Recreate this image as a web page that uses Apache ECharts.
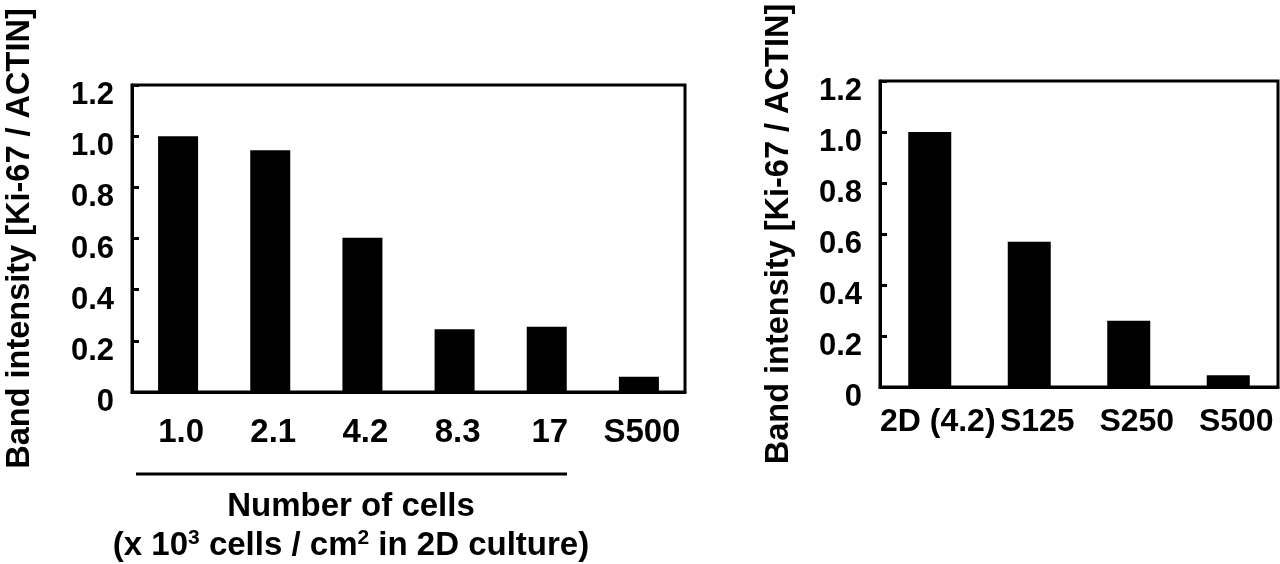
<!DOCTYPE html>
<html>
<head>
<meta charset="utf-8">
<title>Ki-67 band intensity</title>
<script src="https://cdn.jsdelivr.net/npm/echarts@6/dist/echarts.min.js"></script>
<style>
  html, body { margin: 0; padding: 0; background: #fff; }
  #chart { width: 1280px; height: 564px; }
</style>
</head>
<body>
<div id="chart"></div>
<script>
// left panel: 2D culture densities + spheroid
const cellCategories = ['1.0', '2.1', '4.2', '8.3', '17', 'S500'];
const cellValues = [1.0, 0.945, 0.603, 0.245, 0.255, 0.06];

// right panel: 2D vs spheroids
const cultureCategories = ['2D (4.2)', 'S125', 'S250', 'S500'];
const cultureValues = [1.0, 0.57, 0.26, 0.046];

const yTicks = [0, 0.2, 0.4, 0.6, 0.8, 1.0, 1.2];
const yTitle = 'Band intensity [Ki-67 / ACTIN]';

const FONT = '"Liberation Sans", Arial, sans-serif';

const chart = echarts.init(document.getElementById('chart'), null, { renderer: 'canvas' });

function fmtTick(v) {
    // "0" stays bare, everything else one decimal
    // wrapped in rich style so the number sits a bit under its tick
    return '{v|' + (v === 0 ? '0' : v.toFixed(1)) + '}';
}

function xAxisFor(gridIndex, cats, fontSize, margin, shift) {
    return {
        type: 'category',
        gridIndex: gridIndex,
        data: cats,
        axisLine: { lineStyle: { color: '#000', width: 3 } },
        axisTick: { inside: true, length: 7, lineStyle: { color: '#000', width: 3 } },
        axisLabel: {
            color: '#000', fontFamily: FONT, fontWeight: 'bold',
            fontSize: fontSize, margin: margin, interval: 0,
            padding: [0, 0, 0, shift]
        },
        splitLine: { show: false }
    };
}

function yAxisFor(gridIndex, gap) {
    return {
        type: 'value',
        gridIndex: gridIndex,
        min: yTicks[0],
        max: yTicks[yTicks.length - 1],
        interval: 0.2,
        axisLine: { show: true, lineStyle: { color: '#000', width: 3 } },
        axisTick: { show: true, inside: true, length: 7, lineStyle: { color: '#000', width: 3 } },
        axisLabel: {
            margin: 18, formatter: fmtTick,
            rich: {
                v: {
                    color: '#000', fontFamily: FONT, fontWeight: 'bold', fontSize: 31,
                    lineHeight: 52, verticalAlign: 'bottom'
                }
            }
        },
        splitLine: { show: false },
        name: yTitle,
        nameLocation: 'middle',
        nameGap: gap,
        nameTextStyle: { color: '#000', fontFamily: FONT, fontWeight: 'bold', fontSize: 32.5 }
    };
}

const option = {
    animation: false,
    backgroundColor: '#fff',
    grid: [
        { left: 132, top: 85, width: 553, height: 307, show: true, borderColor: '#000', borderWidth: 3 },
        { left: 880, top: 81, width: 398, height: 306, show: true, borderColor: '#000', borderWidth: 3 }
    ],
    xAxis: [
        xAxisFor(0, cellCategories, 33, 24, 6),
        xAxisFor(1, cultureCategories, 32, 19, 16)
    ],
    yAxis: [
        yAxisFor(0, 95),
        yAxisFor(1, 84)
    ],
    series: [
        {
            type: 'bar', xAxisIndex: 0, yAxisIndex: 0,
            data: cellValues, barWidth: 40,
            itemStyle: { color: '#000' }
        },
        {
            type: 'bar', xAxisIndex: 1, yAxisIndex: 1,
            data: cultureValues, barWidth: 43,
            itemStyle: { color: '#000' }
        }
    ],
    graphic: [
        // bracket under the 2D culture densities
        {
            type: 'line',
            shape: { x1: 136, y1: 474, x2: 567, y2: 474 },
            style: { stroke: '#000', lineWidth: 3 }
        },
        {
            type: 'text',
            style: {
                text: 'Number of cells',
                x: 351, y: 507,
                align: 'center',
                verticalAlign: 'middle',
                fill: '#000',
                font: 'bold 33px ' + FONT
            }
        },
        {
            type: 'text',
            style: {
                text: '{n|(x 10}{s|3}{n| cells / cm}{s|2}{n| in 2D culture)}',
                x: 351, y: 546,
                align: 'center',
                verticalAlign: 'middle',
                rich: {
                    n: { fontFamily: FONT, fontWeight: 'bold', fontSize: 33, lineHeight: 36, fill: '#000', color: '#000' },
                    s: { fontFamily: FONT, fontWeight: 'bold', fontSize: 21, lineHeight: 36, verticalAlign: 'top', fill: '#000', color: '#000' }
                }
            }
        }
    ]
};

chart.setOption(option);
</script>
</body>
</html>
